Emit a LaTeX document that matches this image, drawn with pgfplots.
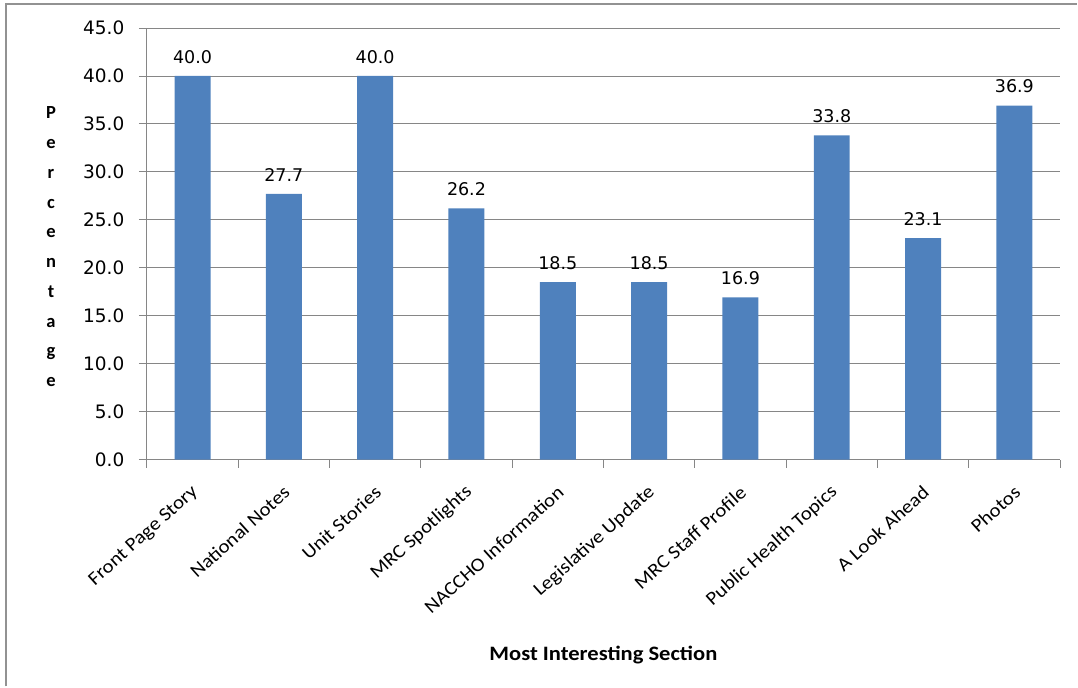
\documentclass[border=0pt]{standalone}
\usepackage{pgfplots}
\pgfplotsset{compat=1.18}
\usepackage{fontspec}
\setmainfont{Carlito}
\newfontfamily\numfont{DejaVu Sans}
\newfontfamily\catfont[FakeStretch=1.1]{Carlito}
\newfontfamily\titlefont[FakeStretch=1.1]{Carlito}
\definecolor{barblue}{HTML}{4F81BD}
\definecolor{axgray}{HTML}{868686}
\begin{document}
\begin{tikzpicture}[x=1pt,y=1pt]
\path (0,0) rectangle (1078,687);
\draw[axgray!90, line width=2pt] (6,0) -- (6,683) -- (1078,683);
\begin{axis}[
  at={(147pt,227pt)}, anchor=south west,
  scale only axis, width=914pt, height=432pt,
  xmin=-0.5, xmax=9.5, ymin=0, ymax=45,
  ybar, bar width=36pt,
  ytick={0,5,...,45},
  xtick={-0.5,0.5,...,9.5},
  x tick label as interval=true,
  xticklabels={Front Page Story, National Notes, Unit Stories, MRC Spotlights, NACCHO Information, Legislative Update, MRC Staff Profile, Public Health Topics, A Look Ahead, Photos},
  xticklabel style={yshift=-22pt, xshift=3pt, rotate=42, anchor=east, inner sep=0pt, font=\catfont\fontsize{19}{21}\selectfont},
  yticklabel style={font=\numfont\fontsize{18.5}{20}\selectfont, xshift=-11pt},
  /pgf/number format/.cd, fixed, fixed zerofill, precision=1, assume math mode=true,
  /pgfplots/.cd,
  tick align=outside, major tick length=8pt,
  tick style={axgray, line width=0.8pt},
  axis x line*=bottom, axis y line*=left,
  axis line style={axgray, line width=0.8pt, -},
  ymajorgrids, grid style={axgray, line width=0.8pt},
  xlabel={Most Interesting Section},
  xlabel style={at={(axis description cs:0.5,-0.452)}, anchor=center, font=\titlefont\bfseries\fontsize{20.5}{23}\selectfont},
  ylabel={P\\e\\r\\c\\e\\n\\t\\a\\g\\e},
  ylabel style={at={(axis description cs:-0.105,0.493)}, rotate=-90, anchor=center, align=center, font=\bfseries\fontsize{18.5}{29.8}\selectfont},
  nodes near coords,
  nodes near coords style={font=\numfont\fontsize{17.5}{19}\selectfont, yshift=9pt, text=black},
]
\addplot[fill=barblue, draw=none] coordinates {(0,40.0) (1,27.7) (2,40.0) (3,26.2) (4,18.5) (5,18.5) (6,16.9) (7,33.8) (8,23.1) (9,36.9)};
\end{axis}
\end{tikzpicture}
\end{document}
